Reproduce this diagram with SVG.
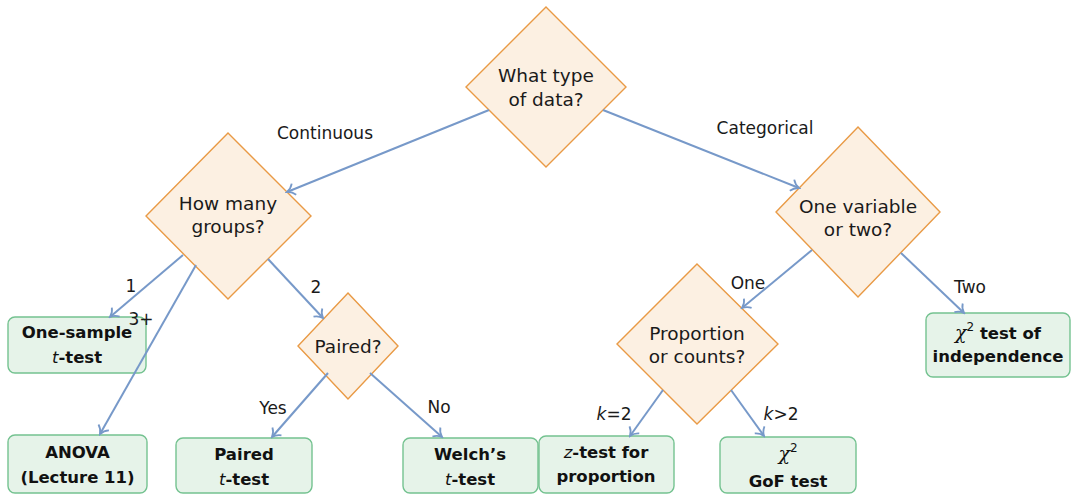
<svg xmlns="http://www.w3.org/2000/svg" width="1071" height="495" viewBox="0 0 1071 495">
<defs>
<style>
.dia{fill:#fcf0e2;stroke:#e99a45;stroke-width:1.4}
.box{fill:#e6f3e9;stroke:#74c290;stroke-width:1.4}
.edge{stroke:#7799c9;stroke-width:2;fill:none}
.dt{font-family:"DejaVu Sans",sans-serif;font-size:18.5px;fill:#1a1a1a;text-anchor:middle}
.lt{font-family:"DejaVu Sans",sans-serif;font-size:16.5px;font-weight:bold;fill:#111;text-anchor:middle}
.el{font-family:"DejaVu Sans",sans-serif;font-size:17px;fill:#1a1a1a;text-anchor:middle}
.it{font-style:italic;font-weight:normal}
.chi{font-family:"DejaVu Serif",serif;font-style:italic;font-weight:normal}
</style>
<marker id="arr" markerUnits="userSpaceOnUse" viewBox="-9 -7 11 14" refX="0" refY="0" markerWidth="11" markerHeight="14" orient="auto">
<path d="M -7.5 -6 C -5.5 -2.7 -2.4 -0.8 0 0 C -2.4 0.8 -5.5 2.7 -7.5 6" fill="none" stroke="#7799c9" stroke-width="1.8"/>
</marker>
</defs>
<g id="q-type">
<polygon class="dia" points="546,7 626,87 546,167 466,87"/>
<text class="dt" x="546" y="82">What type</text>
<text class="dt" x="546" y="106">of data?</text>
</g>
<g id="q-groups">
<polygon class="dia" points="228,133 311,216 228,299 146,216"/>
<text class="dt" x="228" y="210">How many</text>
<text class="dt" x="228" y="233">groups?</text>
</g>
<g id="q-vars">
<polygon class="dia" points="858,127 940,212 858,297 776,212"/>
<text class="dt" x="858" y="213">One variable</text>
<text class="dt" x="858" y="236">or two?</text>
</g>
<g id="q-paired">
<polygon class="dia" points="348,293 398,346 348,399 298,346"/>
<text class="dt" x="348" y="353">Paired?</text>
</g>
<g id="q-prop">
<polygon class="dia" points="697,264 778,344 697,424 617,344"/>
<text class="dt" x="697" y="340">Proportion</text>
<text class="dt" x="697" y="363">or counts?</text>
</g>
<g id="l-onesample">
<rect class="box" x="8" y="317" width="138" height="56" rx="7"/>
<text class="lt" x="77" y="338">One-sample</text>
<text class="lt" x="77" y="363"><tspan class="it">t</tspan>-test</text>
</g>
<g id="l-anova">
<rect class="box" x="8" y="435" width="139" height="58" rx="7"/>
<text class="lt" x="77.5" y="458">ANOVA</text>
<text class="lt" x="77.5" y="483">(Lecture 11)</text>
</g>
<g id="l-paired">
<rect class="box" x="176" y="438" width="136" height="55" rx="7"/>
<text class="lt" x="244" y="460">Paired</text>
<text class="lt" x="244" y="485"><tspan class="it">t</tspan>-test</text>
</g>
<g id="l-welch">
<rect class="box" x="403" y="438" width="135" height="55" rx="7"/>
<text class="lt" x="470" y="460">Welch’s</text>
<text class="lt" x="470" y="485"><tspan class="it">t</tspan>-test</text>
</g>
<g id="l-ztest">
<rect class="box" x="539" y="436" width="135" height="57" rx="7"/>
<text class="lt" x="606" y="458"><tspan class="it">z</tspan>-test for</text>
<text class="lt" x="606" y="482">proportion</text>
</g>
<g id="l-gof">
<rect class="box" x="720" y="437" width="136" height="56" rx="7"/>
<text class="lt" x="788" y="460"><tspan class="chi" font-size="19">χ</tspan><tspan font-weight="normal" font-size="12" dy="-8">2</tspan></text>
<text class="lt" x="788" y="487">GoF test</text>
</g>
<g id="l-indep">
<rect class="box" x="926" y="313" width="144" height="64" rx="7"/>
<text class="lt" x="998" y="339"><tspan class="chi" font-size="19">χ</tspan><tspan font-weight="normal" font-size="12" dy="-8">2</tspan><tspan dy="8"> test of</tspan></text>
<text class="lt" x="998" y="362">independence</text>
</g>
<g id="edges">
<line class="edge" x1="489" y1="110" x2="287" y2="192" marker-end="url(#arr)"/>
<line class="edge" x1="603" y1="110" x2="799" y2="188" marker-end="url(#arr)"/>
<line class="edge" x1="183" y1="255" x2="110" y2="317" marker-end="url(#arr)"/>
<line class="edge" x1="196" y1="265" x2="100" y2="434" marker-end="url(#arr)"/>
<line class="edge" x1="268" y1="259" x2="323" y2="318" marker-end="url(#arr)"/>
<line class="edge" x1="328" y1="373" x2="272" y2="437" marker-end="url(#arr)"/>
<line class="edge" x1="370" y1="373" x2="442" y2="437" marker-end="url(#arr)"/>
<line class="edge" x1="812" y1="250" x2="742" y2="308" marker-end="url(#arr)"/>
<line class="edge" x1="901" y1="253" x2="964" y2="313" marker-end="url(#arr)"/>
<line class="edge" x1="663" y1="390" x2="630" y2="436" marker-end="url(#arr)"/>
<line class="edge" x1="731" y1="390" x2="764" y2="436" marker-end="url(#arr)"/>
<text class="el" x="325" y="139">Continuous</text>
<text class="el" x="765" y="134">Categorical</text>
<text class="el" x="131" y="292">1</text>
<text class="el" x="141" y="325">3+</text>
<text class="el" x="316" y="293">2</text>
<text class="el" x="273" y="414">Yes</text>
<text class="el" x="439" y="413">No</text>
<text class="el" x="748" y="289">One</text>
<text class="el" x="970" y="293">Two</text>
<text class="el" x="614" y="420"><tspan class="it">k</tspan>=2</text>
<text class="el" x="781" y="420"><tspan class="it">k</tspan>&gt;2</text>
</g>
</svg>
